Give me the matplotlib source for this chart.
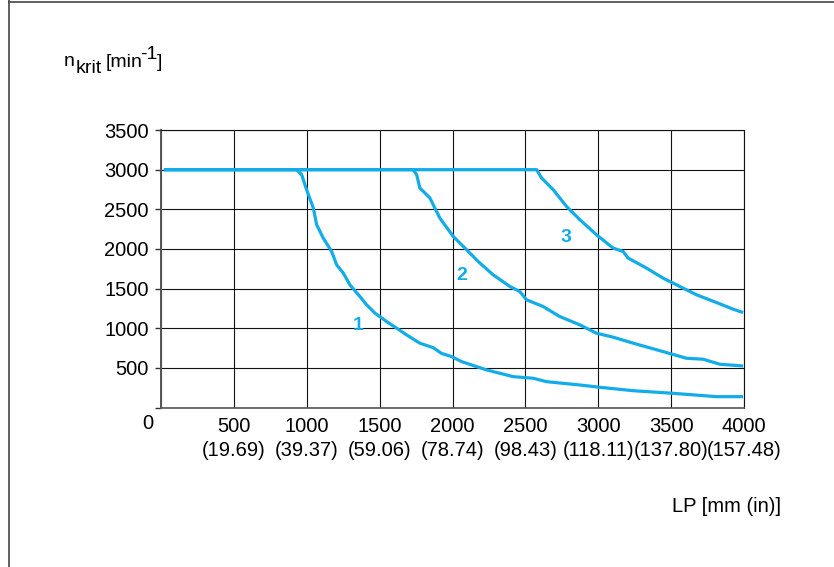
import matplotlib
matplotlib.use("Agg")
import matplotlib.pyplot as plt
from matplotlib.lines import Line2D

plt.rcParams['font.family'] = ['Liberation Sans', 'DejaVu Sans']

# ---- data ----
x_ticks = [0, 500, 1000, 1500, 2000, 2500, 3000, 3500, 4000]
x_inch_labels = ['', '(19.69)', '(39.37)', '(59.06)', '(78.74)', '(98.43)',
                 '(118.11)', '(137.80)', '(157.48)']
y_ticks = [0, 500, 1000, 1500, 2000, 2500, 3000, 3500]

c1_x = [20, 930, 965, 999, 1045, 1068, 1113, 1171, 1205, 1251, 1296, 1365, 1411,
        1468, 1548, 1617, 1685, 1776, 1868, 1925, 1994, 2062, 2234, 2417, 2554,
        2645, 2874, 3011, 3240, 3514, 3811, 3994]
c1_y = [3000, 3000, 2937, 2747, 2517, 2306, 2138, 1968, 1800, 1696, 1548, 1400, 1295,
        1191, 1085, 1001, 917, 812, 755, 683, 643, 580, 475, 390, 370,
        327, 285, 256, 213, 180, 138, 138]

c2_x = [20, 1730, 1754, 1776, 1845, 1913, 2005, 2097, 2176, 2279, 2394, 2462, 2508,
        2622, 2736, 2874, 2988, 3102, 3240, 3445, 3605, 3719, 3834, 3994]
c2_y = [3000, 3000, 2937, 2769, 2643, 2390, 2158, 1990, 1842, 1674, 1527, 1463, 1359,
        1274, 1148, 1043, 938, 888, 812, 706, 622, 610, 547, 525]

c3_x = [20, 2577, 2611, 2691, 2782, 2874, 2988, 3102, 3171, 3205, 3331, 3445, 3560,
        3674, 3811, 3925, 3994]
c3_y = [3000, 3000, 2895, 2747, 2537, 2369, 2179, 2011, 1968, 1885, 1759, 1632, 1527,
        1422, 1325, 1241, 1198]

curve_labels = ['1', '2', '3']
label_x = [1350, 2065, 2780]
label_y = [1040, 1660, 2140]

BLUE = '#12ADE8'
FS = 14.5

fig = plt.figure(figsize=(8.34, 5.67), dpi=100)
ax = fig.add_axes([161/834, 1-407.6/567, (744-161)/834, (407.6-130)/567])

for xs, ys in [(c1_x, c1_y), (c2_x, c2_y), (c3_x, c3_y)]:
    ax.plot(xs, ys, color=BLUE, lw=2.3, solid_capstyle='butt', zorder=3)

for t, lx, ly in zip(curve_labels, label_x, label_y):
    ax.text(lx, ly, t, color=BLUE, fontsize=14, fontweight='bold',
            ha='center', va='center', zorder=4)

ax.set_xlim(0, 4000)
ax.set_ylim(0, 3500)
ax.set_xticks(x_ticks)
ax.set_xticklabels([('' if v == 0 else f'{v}\n{lab}') for v, lab in zip(x_ticks, x_inch_labels)],
                   fontsize=FS, linespacing=1.36)
ax.set_yticks(y_ticks)
ax.set_yticklabels([('' if v == 0 else str(v)) for v in y_ticks], fontsize=FS)
ax.set_xticks([0], minor=True)
ax.tick_params(axis='x', which='major', length=0, pad=6.5)
ax.tick_params(axis='x', which='minor', length=4, width=1, color='#333333')
ax.tick_params(axis='y', which='major', length=4, width=1, color='#333333', pad=5)
ax.grid(True, color='#111111', lw=0.8)
for s in ax.spines.values():
    s.set_color('#111111')
    s.set_linewidth(0.8)
ax.spines['left'].set_color('#555555')
ax.spines['left'].set_linewidth(1.4)
ax.spines['bottom'].set_color('#555555')
ax.spines['bottom'].set_linewidth(1.2)

ax.annotate('0', xy=(0, 0), xytext=(-13, -16), textcoords='offset pixels',
            ha='center', va='center', fontsize=FS)

# y-axis title built from pieces: n, subscript "krit", "[min", superscript "-1", "]"
W, H = 834, 567
def ftext(px, py, s, fs):
    fig.text(px / W, 1 - py / H, s, fontsize=fs, ha='left', va='baseline')
ftext(64, 66, 'n', 14)
ftext(76, 73, 'krit', 14)
ftext(106, 67, '[min', 14)
ftext(140, 59, '-1', 14)
ftext(157, 67, ']', 14)

fig.text(727/834, 1-507/567, 'LP [mm (in)]', fontsize=14.5, ha='center', va='center')

# figure frame (left and top borders)
fig.add_artist(Line2D([8.5/834, 8.5/834], [0, 1], transform=fig.transFigure,
                      color='#444444', lw=1.2))
fig.add_artist(Line2D([8.5/834, 1], [1-2/567, 1-2/567], transform=fig.transFigure,
                      color='#444444', lw=1.2))

fig.savefig('out.png', dpi=100)
